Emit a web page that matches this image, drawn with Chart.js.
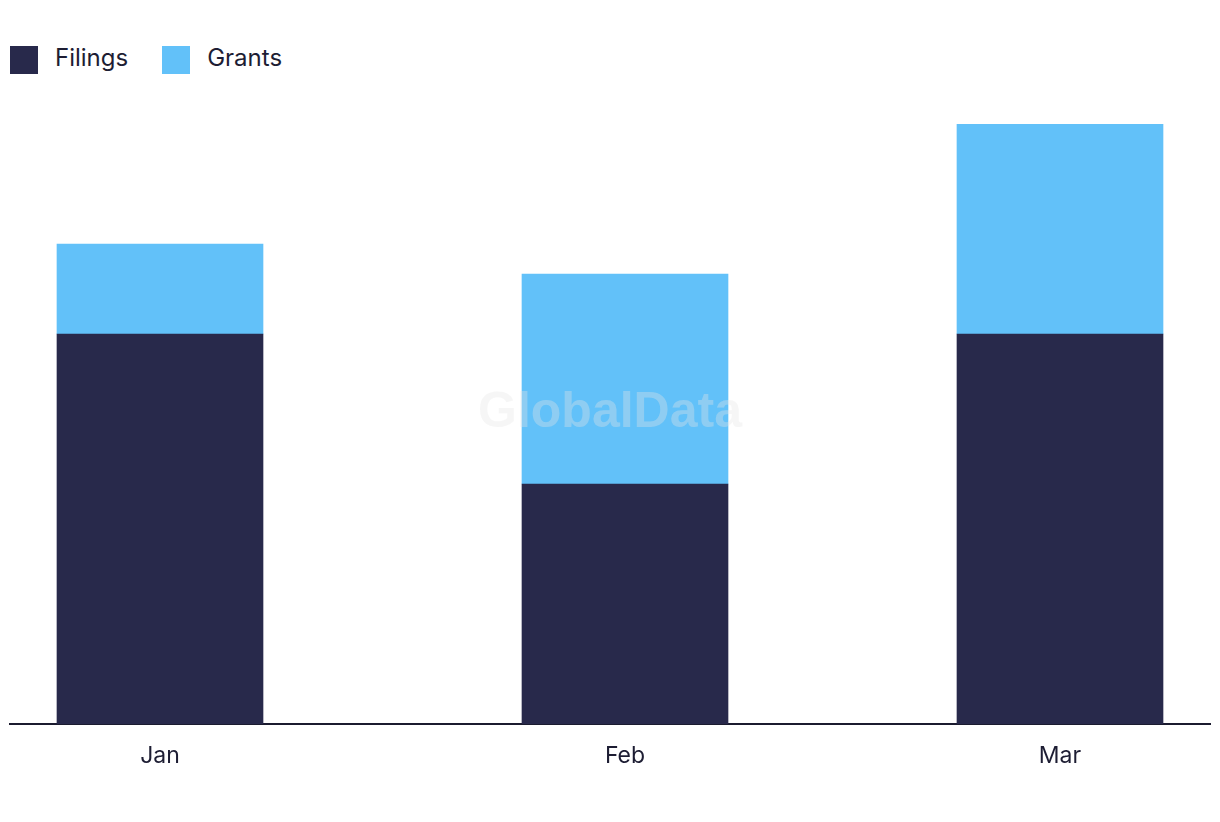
<!DOCTYPE html>
<html>
<head>
<meta charset="utf-8">
<script src="https://cdn.jsdelivr.net/npm/chart.js@4"></script>
<style>
  html, body { margin: 0; padding: 0; background: #fff; }
  body { width: 1220px; height: 822px; position: relative; overflow: hidden; font-family: Inter, "Noto Sans", sans-serif; }
  #legend { position: absolute; left: 10px; top: 46px; display: flex; align-items: center; height: 28px; font-size: 24px; color: #1d1d33; }
  .item { display: flex; align-items: center; margin-right: 34px; line-height: 28px; }
  .item span { position: relative; top: -2px; }
  .swatch { width: 28px; height: 28px; margin-right: 17px; }
  #wrap { position: absolute; left: 0; top: 0; width: 1220px; height: 822px; }
</style>
</head>
<body>
<div id="legend"></div>
<div id="wrap"><canvas id="chart"></canvas></div>
<script>
const months = ['Jan', 'Feb', 'Mar'];
// day of year where each month starts (leap year), bars sit on a time-like axis
const monthStart = [0, 31, 60];
const filings = [13, 8, 13];
const grants = [3, 7, 7];

const seriesNames = ['Filings', 'Grants'];
const seriesColors = ['#28294b', '#62c1f9'];

const legendDiv = document.getElementById('legend');
legendDiv.innerHTML = seriesNames.map((n, i) =>
  `<div class="item"><div class="swatch" style="background:${seriesColors[i]}"></div><span>${n}</span></div>`
).join('');

const watermark = {
  id: 'watermark',
  afterDatasetsDraw(chart) {
    const { ctx } = chart;
    ctx.save();
    ctx.font = 'bold 50px "Liberation Sans", Arial, sans-serif';
    ctx.fillStyle = 'rgba(230,230,230,0.35)';
    ctx.textAlign = 'center';
    ctx.textBaseline = 'middle';
    ctx.fillText('GlobalData', 610, 413);
    ctx.restore();
  }
};

const toPoints = vals => vals.map((v, i) => ({ x: monthStart[i], y: v }));

new Chart(document.getElementById('chart'), {
  type: 'bar',
  data: {
    datasets: [
      { label: seriesNames[0], data: toPoints(filings), backgroundColor: seriesColors[0], barThickness: 206 },
      { label: seriesNames[1], data: toPoints(grants), backgroundColor: seriesColors[1], barThickness: 206 }
    ]
  },
  options: {
    responsive: true,
    maintainAspectRatio: false,
    animation: false,
    layout: { padding: { top: 124, left: 10, right: 10, bottom: 0 } },
    plugins: {
      legend: { display: false },
      tooltip: { enabled: false }
    },
    scales: {
      x: {
        type: 'linear',
        stacked: true,
        offset: false,
        min: -10,
        max: 70,
        z: 1,
        grid: { display: false, drawTicks: false, offset: false },
        border: { display: true, color: '#1b1b2f', width: 2 },
        afterBuildTicks: scale => { scale.ticks = monthStart.map(v => ({ value: v })); },
        afterFit: scale => { scale.height = 98; },
        ticks: {
          padding: 18,
          maxRotation: 0,
          autoSkip: false,
          color: '#1d1d33',
          font: { family: 'Inter, "Noto Sans", sans-serif', size: 23 },
          callback: v => months[monthStart.indexOf(v)]
        }
      },
      y: {
        stacked: true,
        display: false,
        min: 0,
        max: 20
      }
    }
  },
  plugins: [watermark]
});
</script>
</body>
</html>
